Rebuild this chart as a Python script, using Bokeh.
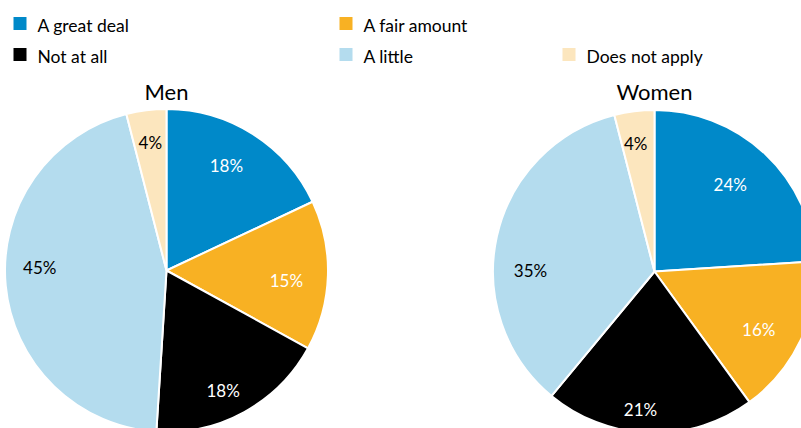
import numpy as np
from bokeh.plotting import figure
from bokeh.models import Range1d, ColumnDataSource
from bokeh.core.properties import value
from bokeh.embed import file_html
from bokeh.resources import INLINE

# ---------------- data ----------------
categories = ["A great deal", "A fair amount", "Not at all", "A little", "Does not apply"]
men = [18, 15, 18, 45, 4]
women = [24, 16, 21, 35, 4]
pie_titles = ["Men", "Women"]

# ---------------- styles ----------------
colors = ["#0089C9", "#F8B123", "#000000", "#B4DCEE", "#FCE6BE"]
label_colors = ["white", "white", "white", "black", "black"]
FONT = "Lato"

W, H = 801, 428
# frame in page pixels: x = page x, y = -page y
p = figure(width=W, height=H, output_backend="svg", toolbar_location=None,
           x_range=Range1d(0, W), y_range=Range1d(-H, 0),
           x_axis_location=None, y_axis_location=None, min_border=0)
p.grid.visible = False
p.outline_line_color = None
p.background_fill_color = "white"
p.border_fill_color = "white"

centers = [(166, 270), (654, 271)]
R = 161.5
# per-slice label placement tweaks (radius fraction, angle shift in degrees)
label_rfrac = [[0.75, 0.745, 0.82, 0.785, 0.80],
               [0.712, 0.737, 0.86, 0.768, 0.80]]
label_dshift = [[-2.8, 3.0, 3.5, 6.9, 0.0],
                [-2.0, 3.7, 4.0, -12.1, -1.2]]

for k, vals in enumerate([men, women]):
    vals = np.array(vals, dtype=float)
    frac = vals / vals.sum()
    cum_end = np.cumsum(frac)
    cum_start = cum_end - frac
    cx, cy = centers[k]
    start = 90 - cum_end * 360
    end = 90 - cum_start * 360
    src = ColumnDataSource(dict(start=start, end=end, color=colors))
    p.wedge(x=cx, y=-cy, radius=R, start_angle="start", end_angle="end",
            start_angle_units="deg", end_angle_units="deg",
            direction="anticlock", fill_color="color", line_color="white",
            line_width=2, source=src)
    mid = (cum_start + frac / 2) * 360 + np.array(label_dshift[k])
    rr = R * np.array(label_rfrac[k])
    lx = cx + rr * np.sin(np.radians(mid))
    ly = -cy + rr * np.cos(np.radians(mid))
    lsrc = ColumnDataSource(dict(x=lx, y=ly, t=[f"{int(v)}%" for v in vals], c=label_colors))
    p.text(x="x", y="y", text="t", text_color="c", source=lsrc,
           text_font=value(FONT), text_font_size="17px",
           text_align="center", text_baseline="middle")
    p.text(x=[cx], y=[-91], text=[pie_titles[k]], text_font=value(FONT),
           text_font_size="22px", text_align="center", text_baseline="middle",
           text_color="black")

# ---------------- legend ----------------
legend_slots = [(13, 23), (339, 23), (13, 54), (339, 54), (562, 54)]
sq = 13
lgx = [s[0] + sq / 2 for s in legend_slots]
lgy = [-s[1] for s in legend_slots]
p.rect(x=lgx, y=lgy, width=sq, height=sq, fill_color=colors, line_color=None)
p.text(x=[s[0] + 24 for s in legend_slots], y=[-(s[1] + 2) for s in legend_slots],
       text=categories, text_font=value(FONT), text_font_size="17.5px",
       text_align="left", text_baseline="middle", text_color="black")

open("out.html", "w").write(file_html(p, INLINE))
